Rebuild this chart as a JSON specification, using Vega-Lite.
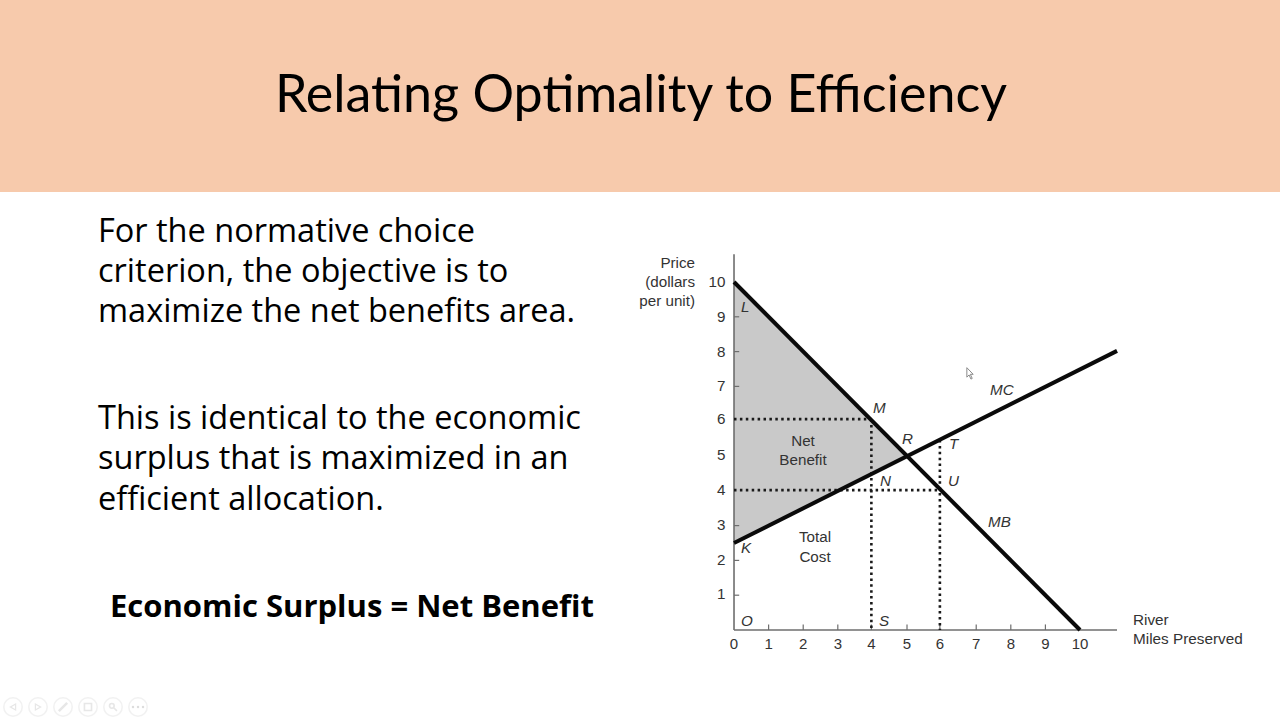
{
"$schema":"https://vega.github.io/schema/vega-lite/v6.json",
"width":1280,"height":720,"padding":0,
"autosize":{"type":"fit","contains":"padding"},
"background":"#ffffff",
"view":{"stroke":null},
"config":{"view":{"stroke":null}},
"datasets":{
"band":[{"x":-21.214,"x2":15.78,"y":18.103,"y2":12.586}],
"area":[{"x":0,"y":10,"y2":2.5},{"x":5,"y":5,"y2":5}],
"curves":[{"s":"MB","x":0,"y":10},{"s":"MB","x":10,"y":0},{"s":"MC","x":0,"y":2.5},{"s":"MC","x":11.07,"y":8.02}],
"axes":[{"x":0,"x2":0,"y":0,"y2":10.8},{"x":0,"x2":11.07,"y":0,"y2":0}],
"xticks":[{"x":1,"x2":1,"y":0,"y2":0.16},{"x":2,"x2":2,"y":0,"y2":0.16},{"x":3,"x2":3,"y":0,"y2":0.16},{"x":3.97,"x2":3.97,"y":0,"y2":0.16},{"x":5,"x2":5,"y":0,"y2":0.16},{"x":5.95,"x2":5.95,"y":0,"y2":0.16},{"x":7,"x2":7,"y":0,"y2":0.16},{"x":8,"x2":8,"y":0,"y2":0.16},{"x":9,"x2":9,"y":0,"y2":0.16},
{"x":0,"x2":0.15,"y":1,"y2":1},{"x":0,"x2":0.15,"y":2,"y2":2},{"x":0,"x2":0.15,"y":3,"y2":3},{"x":0,"x2":0.15,"y":7,"y2":7},{"x":0,"x2":0.15,"y":8,"y2":8},{"x":0,"x2":0.15,"y":9,"y2":9}],
"dots":[{"x":0,"x2":3.97,"y":6.06,"y2":6.06},{"x":3.97,"x2":3.97,"y":6.06,"y2":0},{"x":0,"x2":5.95,"y":4.02,"y2":4.02},{"x":5.95,"x2":5.95,"y":5.46,"y2":0}],
"xlabels":[{"t":"0","x":0,"y":-0.546},{"t":"1","x":1,"y":-0.546},{"t":"2","x":2,"y":-0.546},{"t":"3","x":3,"y":-0.546},{"t":"4","x":3.97,"y":-0.546},{"t":"5","x":5,"y":-0.546},{"t":"6","x":5.95,"y":-0.546},{"t":"7","x":7,"y":-0.546},{"t":"8","x":8,"y":-0.546},{"t":"9","x":9,"y":-0.546},{"t":"10","x":10,"y":-0.546}],
"ylabels":[{"t":"1","x":-0.246,"y":0.891},{"t":"2","x":-0.246,"y":1.868},{"t":"3","x":-0.246,"y":2.874},{"t":"4","x":-0.246,"y":3.879},{"t":"5","x":-0.246,"y":4.885},{"t":"6","x":-0.246,"y":5.92},{"t":"7","x":-0.246,"y":6.868},{"t":"8","x":-0.246,"y":7.845},{"t":"9","x":-0.246,"y":8.851},{"t":"10","x":-0.246,"y":9.856},
{"t":"Price","x":-1.127,"y":10.402},{"t":"(dollars","x":-1.127,"y":9.856},{"t":"per unit)","x":-1.127,"y":9.31}],
"italics":[{"t":"L","x":0.202,"y":9.138},{"t":"M","x":4.017,"y":6.236},{"t":"R","x":4.855,"y":5.345},{"t":"T","x":6.214,"y":5.201},{"t":"N","x":4.22,"y":4.138},{"t":"U","x":6.185,"y":4.138},{"t":"K","x":0.202,"y":2.213},{"t":"O","x":0.202,"y":0.115},{"t":"S","x":4.191,"y":0.115},{"t":"MC","x":7.399,"y":6.753},{"t":"MB","x":7.341,"y":2.96}],
"centered":[{"t":"Net","x":1.994,"y":5.287},{"t":"Benefit","x":1.994,"y":4.741},{"t":"Total","x":2.341,"y":2.529},{"t":"Cost","x":2.341,"y":1.954}],
"river":[{"t":"River","x":11.532,"y":0.144},{"t":"Miles Preserved","x":11.532,"y":-0.402}],
"title":[{"t":"Relating Optimality to Efficiency","x":-2.688,"y":14.885}],
"body":[{"t":"For the normative choice","x":-18.382,"y":11.149},{"t":"criterion, the objective is to","x":-18.382,"y":10.0},{"t":"maximize the net benefits area.","x":-18.382,"y":8.851},{"t":"This is identical to the economic","x":-18.382,"y":5.776},{"t":"surplus that is maximized in an","x":-18.382,"y":4.626},{"t":"efficient allocation.","x":-18.382,"y":3.448}],
"bold":[{"t":"Economic Surplus = Net Benefit","x":-18.035,"y":0.374}],
"nav":[{"x":-20.838,"y":-2.213},{"x":-20.116,"y":-2.213},{"x":-19.393,"y":-2.213},{"x":-18.671,"y":-2.213},{"x":-17.948,"y":-2.213},{"x":-17.225,"y":-2.213}],
"navleft":[{"x":-20.838,"y":-2.213}],
"navright":[{"x":-20.116,"y":-2.213}],
"navpen":[{"x":-19.393,"y":-2.213}],
"navcopy":[{"x":-18.671,"y":-2.213}],
"navzoom":[{"x":-17.948,"y":-2.213}],
"navdots":[{"x":-17.37,"y":-2.213},{"x":-17.225,"y":-2.213},{"x":-17.08,"y":-2.213}],
"cursor":[{"x":6.821,"y":7.356}]
},
"encoding":{
"x":{"field":"x","type":"quantitative","axis":null,"scale":{"domain":[-21.214,15.78],"nice":false,"zero":false}},
"y":{"field":"y","type":"quantitative","axis":null,"scale":{"domain":[-2.586,18.103],"nice":false,"zero":false}}
},
"layer":[
{"data":{"name":"band"},"mark":{"type":"rect","color":"#f7caac"},"encoding":{"x2":{"field":"x2"},"y2":{"field":"y2"}}},
{"data":{"name":"area"},"mark":{"type":"area","color":"#c9c9c9","opacity":1},"encoding":{"y2":{"field":"y2"}}},
{"data":{"name":"axes"},"mark":{"type":"rule","color":"#6e6e6e","strokeWidth":1.6},"encoding":{"x2":{"field":"x2"},"y2":{"field":"y2"}}},
{"data":{"name":"xticks"},"mark":{"type":"rule","color":"#6e6e6e","strokeWidth":1.2},"encoding":{"x2":{"field":"x2"},"y2":{"field":"y2"}}},
{"data":{"name":"dots"},"mark":{"type":"rule","color":"#1a1a1a","strokeWidth":2.6,"strokeDash":[2.5,3.4]},"encoding":{"x2":{"field":"x2"},"y2":{"field":"y2"}}},
{"data":{"name":"curves"},"mark":{"type":"line","color":"#0a0a0a","strokeWidth":4},"encoding":{"detail":{"field":"s"}}},
{"data":{"name":"xlabels"},"mark":{"type":"text","font":"Liberation Sans","fontSize":15,"color":"#333333","align":"center","baseline":"alphabetic"},"encoding":{"text":{"field":"t"}}},
{"data":{"name":"ylabels"},"mark":{"type":"text","font":"Liberation Sans","fontSize":15.2,"color":"#333333","align":"right","baseline":"alphabetic"},"encoding":{"text":{"field":"t"}}},
{"data":{"name":"italics"},"mark":{"type":"text","font":"Liberation Sans","fontSize":15.2,"fontStyle":"italic","color":"#333333","align":"left","baseline":"alphabetic"},"encoding":{"text":{"field":"t"}}},
{"data":{"name":"centered"},"mark":{"type":"text","font":"Liberation Sans","fontSize":15.2,"color":"#333333","align":"center","baseline":"alphabetic"},"encoding":{"text":{"field":"t"}}},
{"data":{"name":"river"},"mark":{"type":"text","font":"Liberation Sans","fontSize":15.3,"color":"#333333","align":"left","baseline":"alphabetic"},"encoding":{"text":{"field":"t"}}},
{"data":{"name":"title"},"mark":{"type":"text","font":"Lato","fontWeight":400,"fontSize":52,"color":"#000000","align":"center","baseline":"alphabetic"},"encoding":{"text":{"field":"t"}}},
{"data":{"name":"body"},"mark":{"type":"text","font":"Open Sans","fontSize":32.5,"color":"#000000","align":"left","baseline":"alphabetic"},"encoding":{"text":{"field":"t"}}},
{"data":{"name":"bold"},"mark":{"type":"text","font":"Open Sans","fontWeight":"bold","fontSize":31,"color":"#000000","align":"left","baseline":"alphabetic"},"encoding":{"text":{"field":"t"}}},
{"data":{"name":"nav"},"mark":{"type":"point","shape":"circle","size":340,"filled":false,"stroke":"#ececec","strokeWidth":1.5}},
{"data":{"name":"navleft"},"mark":{"type":"point","shape":"triangle-left","size":36,"filled":false,"stroke":"#dddddd","strokeWidth":1.2}},
{"data":{"name":"navright"},"mark":{"type":"point","shape":"triangle-right","size":36,"filled":false,"stroke":"#dddddd","strokeWidth":1.2}},
{"data":{"name":"navpen"},"mark":{"type":"point","shape":"M-1,1 L1,-1","size":70,"filled":false,"stroke":"#dddddd","strokeWidth":2.4}},
{"data":{"name":"navcopy"},"mark":{"type":"point","shape":"square","size":50,"filled":false,"stroke":"#dddddd","strokeWidth":1.6}},
{"data":{"name":"navzoom"},"mark":{"type":"point","shape":"M0.2,0.2 L1,1 M-0.9,-0.3 A0.6,0.6 0 1 0 0.3,-0.3 A0.6,0.6 0 1 0 -0.9,-0.3 Z","size":60,"filled":false,"stroke":"#dddddd","strokeWidth":1.6}},
{"data":{"name":"navdots"},"mark":{"type":"point","shape":"circle","size":6,"filled":true,"fill":"#dddddd","opacity":1}},
{"data":{"name":"cursor"},"mark":{"type":"point","shape":"M-0.5,-1 L-0.5,0.5 L-0.15,0.15 L0.15,0.8 L0.35,0.7 L0.05,0.05 L0.5,0.05 Z","size":160,"filled":true,"fill":"#ffffff","stroke":"#8a8a8a","strokeWidth":1,"opacity":1}}
]
}
